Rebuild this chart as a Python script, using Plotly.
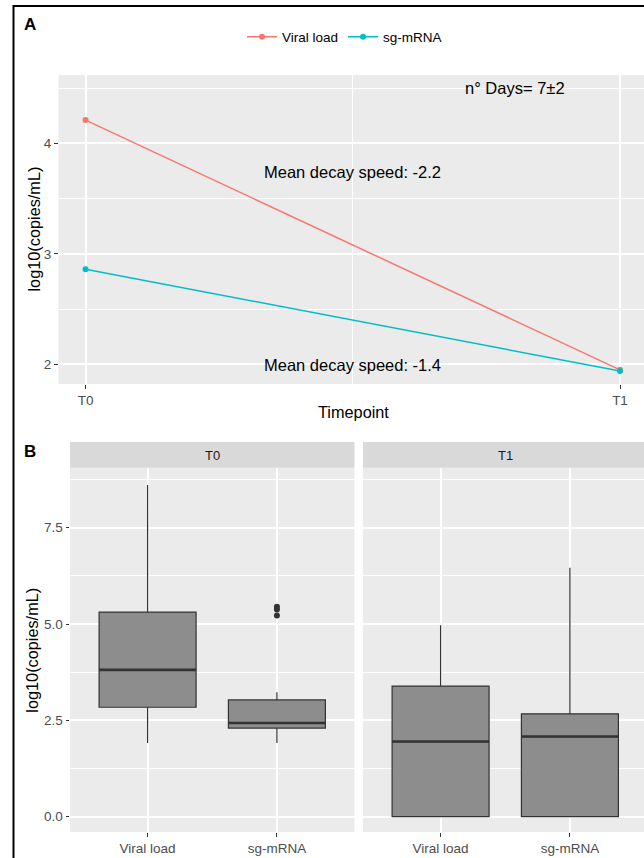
import plotly.graph_objects as go

# ---------------- data ----------------
timepoints = ["T0", "T1"]
timepoint_pos = [1, 2]
viral_load_mean = [4.21, 1.95]
sg_mrna_mean = [2.86, 1.94]

box_categories = ["Viral load", "sg-mRNA"]
# Panel B, T0
t0_lower = [1.91, 1.91]
t0_q1 = [2.84, 2.30]
t0_median = [3.81, 2.43]
t0_q3 = [5.31, 3.03]
t0_upper = [8.61, 3.23]
t0_outlier_cat = ["sg-mRNA", "sg-mRNA", "sg-mRNA"]
t0_outliers = [5.22, 5.38, 5.45]
# Panel B, T1
t1_lower = [0.0, 0.0]
t1_q1 = [0.0, 0.0]
t1_median = [1.95, 2.08]
t1_q3 = [3.39, 2.67]
t1_upper = [4.97, 6.46]

# annotation texts (panel A)
note_texts = ["Mean decay speed: -2.2", "Mean decay speed: -1.4", "n° Days= 7±2"]
note_x = [1.5, 1.5, 1.803]
note_y = [3.74, 1.99, 4.50]

A_ticks = [2, 3, 4]
A_minor = [2.5, 3.5, 4.5]
B_ticks = [0, 2.5, 5, 7.5]
B_ticklabels = ["0.0", "2.5", "5.0", "7.5"]
B_minor = [1.25, 3.75, 6.25, 8.75]

# ---------------- styling ----------------
W, H = 644, 858
FONT = "Liberation Sans, Arial, sans-serif"
RED = "#F8766D"
CYAN = "#00BFC4"
PANEL_BG = "#EBEBEB"
BOX_FILL = "#8D8D8D"
BOX_LINE = "#333333"
TICK_COL = "#4D4D4D"
TICK_SIZE = 13.5

def px(x):
    return x / W

def py(y):
    return 1 - y / H

fig = go.Figure()

# Panel A lines
fig.add_trace(go.Scatter(x=timepoint_pos, y=viral_load_mean, mode="lines+markers",
                         name="Viral load", line=dict(color=RED, width=1.5),
                         marker=dict(size=6, color=RED), xaxis="x", yaxis="y"))
fig.add_trace(go.Scatter(x=timepoint_pos, y=sg_mrna_mean, mode="lines+markers",
                         name="sg-mRNA", line=dict(color=CYAN, width=1.5),
                         marker=dict(size=6, color=CYAN), xaxis="x", yaxis="y"))

# Panel B boxes
for xa, ya, lo, q1, med, q3, up in [("x2", "y2", t0_lower, t0_q1, t0_median, t0_q3, t0_upper),
                                     ("x3", "y3", t1_lower, t1_q1, t1_median, t1_q3, t1_upper)]:
    fig.add_trace(go.Box(x=box_categories, q1=q1, median=med, q3=q3,
                         lowerfence=lo, upperfence=up, xaxis=xa, yaxis=ya,
                         fillcolor=BOX_FILL, line=dict(color=BOX_LINE, width=1.2),
                         width=0.75, whiskerwidth=0, boxpoints=False,
                         showlegend=False, hoverinfo="skip"))
    # thicker median line
    fig.add_trace(go.Box(x=box_categories, q1=med, median=med, q3=med,
                         lowerfence=med, upperfence=med, xaxis=xa, yaxis=ya,
                         fillcolor=BOX_LINE, line=dict(color=BOX_LINE, width=2.6),
                         width=0.75, whiskerwidth=0, boxpoints=False,
                         showlegend=False, hoverinfo="skip"))

fig.add_trace(go.Scatter(x=t0_outlier_cat, y=t0_outliers, mode="markers",
                         marker=dict(size=6, color=BOX_LINE), xaxis="x2", yaxis="y2",
                         showlegend=False, hoverinfo="skip"))

axis_common = dict(showgrid=True, gridcolor="white", gridwidth=1.8, zeroline=False,
                   showline=False, ticklen=3.5, tickwidth=1,
                   tickcolor=BOX_LINE, tickfont=dict(size=TICK_SIZE, color=TICK_COL, family=FONT))

fig.update_layout(
    width=W, height=H, margin=dict(l=0, r=0, t=0, b=0),
    paper_bgcolor="white", plot_bgcolor=PANEL_BG,
    font=dict(family=FONT, size=13, color="black"),
    boxmode="overlay",
    xaxis=dict(domain=[px(58.5), 1], anchor="y", range=[0.9494, 2.0449], ticks="outside",
               tickmode="array", tickvals=timepoint_pos, ticktext=timepoints,
               minor=dict(tickvals=[1.5], showgrid=True, gridcolor="white", gridwidth=0.9, ticks=""),
               **axis_common),
    yaxis=dict(domain=[py(384), py(75)], anchor="x", range=[1.822, 4.618], ticks="outside",
               tickmode="array", tickvals=A_ticks,
               minor=dict(tickvals=A_minor, showgrid=True, gridcolor="white", gridwidth=0.9, ticks=""),
               **axis_common),
    xaxis2=dict(domain=[px(70), px(354.5)], anchor="y2", type="category", ticks="outside",
                categoryorder="array", categoryarray=box_categories, range=[-0.6, 1.6],
                **axis_common),
    yaxis2=dict(domain=[py(832), py(467.7)], anchor="x2", range=[-0.397, 9.057], ticks="outside",
                tickmode="array", tickvals=B_ticks, ticktext=B_ticklabels,
                minor=dict(tickvals=B_minor, showgrid=True, gridcolor="white", gridwidth=0.9, ticks=""),
                **axis_common),
    xaxis3=dict(domain=[px(363), 1], anchor="y3", type="category", ticks="outside",
                categoryorder="array", categoryarray=box_categories, range=[-0.6, 1.573],
                **axis_common),
    yaxis3=dict(domain=[py(832), py(467.7)], anchor="x3", range=[-0.397, 9.057], ticks="",
                tickmode="array", tickvals=B_ticks, showticklabels=False,
                minor=dict(tickvals=B_minor, showgrid=True, gridcolor="white", gridwidth=0.9, ticks=""),
                **axis_common),
    legend=dict(orientation="h", x=px(242), xanchor="left", y=py(37), yanchor="middle",
                font=dict(size=13.5, color="black", family=FONT), itemwidth=30,
                bgcolor="rgba(0,0,0,0)", traceorder="normal"),
    showlegend=True,
)

shapes = [
    # outer border
    dict(type="rect", xref="paper", yref="paper", x0=px(13.5), x1=1.05, y0=-0.05, y1=py(6),
         line=dict(color="black", width=2), fillcolor="rgba(0,0,0,0)", layer="above"),
    # strips
    dict(type="rect", xref="paper", yref="paper", x0=px(70), x1=px(354.5), y0=py(467.7), y1=py(442),
         line=dict(width=0), fillcolor="#D9D9D9", layer="below"),
    dict(type="rect", xref="paper", yref="paper", x0=px(363), x1=1.0, y0=py(467.7), y1=py(442),
         line=dict(width=0), fillcolor="#D9D9D9", layer="below"),
]
fig.update_layout(shapes=shapes)

def paper_text(text, x, y, size, color="black", angle=0):
    return dict(text=text, x=px(x), y=py(y), xref="paper", yref="paper", showarrow=False,
                xanchor="center", yanchor="middle", textangle=angle,
                font=dict(size=size, color=color, family=FONT))

ann = []
for t, xx, yy in zip(note_texts, note_x, note_y):
    ann.append(dict(text=t, x=xx, y=yy, xref="x", yref="y", showarrow=False,
                    xanchor="center", yanchor="middle",
                    font=dict(size=16.5, color="black", family=FONT)))
ann += [
    paper_text("<b>A</b>", 30, 25, 17),
    paper_text("<b>B</b>", 30, 451, 17),
    paper_text("T0", (70 + 354.5) / 2, 455, 13, "#1A1A1A"),
    paper_text("T1", (363 + 647) / 2, 455, 13, "#1A1A1A"),
    paper_text("log10(copies/mL)", 33, 229.5, 16.3, angle=-90),
    paper_text("log10(copies/mL)", 31.7, 650, 16.3, angle=-90),
    paper_text("Timepoint", 353, 412, 16.3),
]
fig.update_layout(annotations=ann)

fig.write_html("out.html", config={"displayModeBar": False},
               post_script="document.body.style.margin='0px';document.body.style.overflow='hidden';")
